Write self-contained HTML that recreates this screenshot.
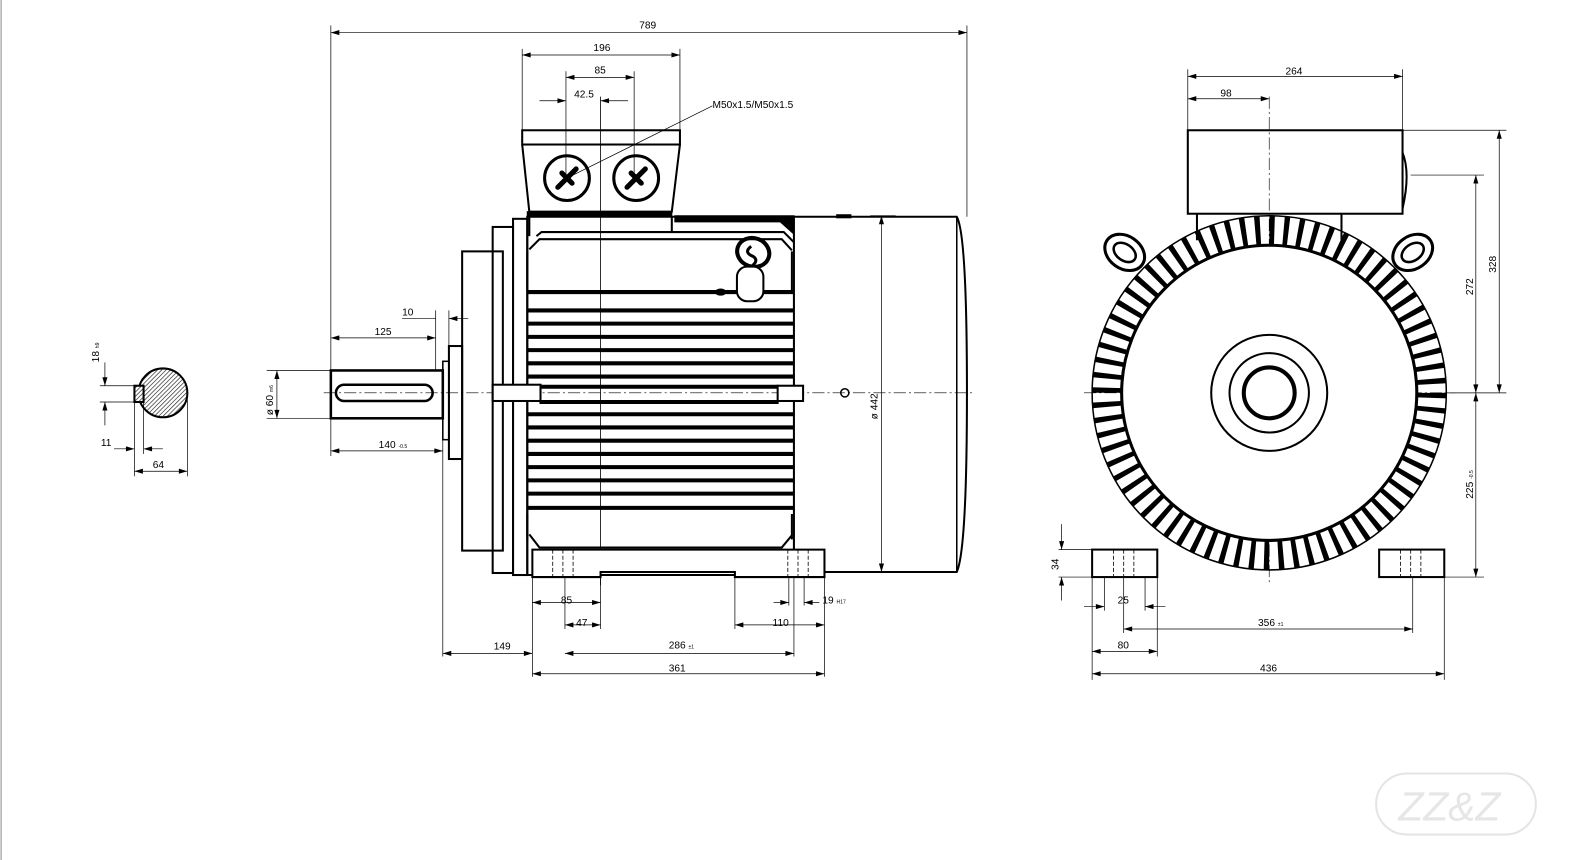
<!DOCTYPE html>
<html><head><meta charset="utf-8"><style>
html,body{margin:0;padding:0;background:#fff;}
svg{display:block;}
text{font-family:"Liberation Sans",sans-serif;font-size:10px;fill:#000;}
</style></head><body>
<svg width="1596" height="860" viewBox="0 0 1568 845" xmlns="http://www.w3.org/2000/svg">
<defs>
<marker id="a" viewBox="0 0 10 6" refX="10" refY="3" markerWidth="10" markerHeight="5" orient="auto-start-reverse" markerUnits="userSpaceOnUse"><path d="M0,0L10,3L0,6z"/></marker>
<pattern id="h" width="3" height="3" patternUnits="userSpaceOnUse" patternTransform="rotate(45)"><rect width="3" height="3" fill="#fff"/><line x1="0" y1="0" x2="0" y2="3" stroke="#333" stroke-width="1.4"/></pattern>
</defs>
<rect width="1568" height="845" fill="#fff"/>
<line x1="1" y1="0" x2="1" y2="845" stroke="#888" stroke-width="1"/>

<g stroke="#000" fill="none">
<circle cx="160" cy="386" r="24" fill="url(#h)" stroke-width="2"/>
<rect x="132" y="379" width="9" height="16" fill="url(#h)" stroke-width="2"/>
<line x1="98" y1="379" x2="132" y2="379" stroke-width="0.7"/>
<line x1="98" y1="395" x2="132" y2="395" stroke-width="0.7"/>
<line x1="103" y1="356" x2="103" y2="379" stroke-width="0.7" marker-end="url(#a)"/>
<line x1="103" y1="418" x2="103" y2="395" stroke-width="0.7" marker-end="url(#a)"/>
<line x1="132" y1="395" x2="132" y2="468" stroke-width="0.7"/>
<line x1="141" y1="395" x2="141" y2="446" stroke-width="0.7"/>
<line x1="184" y1="386" x2="184" y2="468" stroke-width="0.7"/>
<line x1="112" y1="441" x2="132" y2="441" stroke-width="0.7" marker-end="url(#a)"/>
<line x1="160" y1="441" x2="141" y2="441" stroke-width="0.7" marker-end="url(#a)"/>
<line x1="132" y1="463" x2="184" y2="463" stroke-width="0.7" marker-start="url(#a)" marker-end="url(#a)"/>
</g>
<text x="97" y="356" transform="rotate(-90 97 356)">18 <tspan font-size="5">h9</tspan></text>
<text x="99" y="438">11</text>
<text x="150" y="460">64</text>

<g stroke="#000" fill="none">
<line x1="318" y1="386" x2="955" y2="386" stroke-width="0.6" stroke-dasharray="12 3 2 3"/>
<line x1="590" y1="95" x2="590" y2="575" stroke-width="0.8"/>
<rect x="325" y="364" width="110" height="47" stroke-width="2.5"/>
<rect x="330" y="378" width="95" height="16" rx="8" stroke-width="2.5"/>
<rect x="435" y="355" width="6" height="77" stroke-width="1.5"/>
<rect x="441" y="340" width="13" height="111" stroke-width="2"/>
<rect x="454" y="247" width="40" height="294" stroke-width="2"/>
<rect x="484" y="223" width="20" height="340" stroke-width="2"/>
<rect x="504" y="215" width="14" height="350" stroke-width="2"/>
<path d="M518,213 H780 V565 H518 Z" stroke-width="2"/>
<path d="M527,232 L532,228 H770 L780,238 M520,245 L530,235 H768 L778,246" stroke-width="2"/>
<path d="M520,525 L530,538 H768 L778,526" stroke-width="2"/>
<rect x="663" y="212" width="117" height="6" fill="#000"/>
<path d="M762,214 L780,230 V214Z" fill="#000"/>
<path d="M518,247 V285 M778,247 V285 M518,505 V530 M778,505 V530" stroke-width="2"/>
<g stroke-width="4">
<line x1="518" y1="287" x2="780" y2="287"/>
<line x1="518" y1="305" x2="780" y2="305"/>
<line x1="518" y1="318" x2="780" y2="318"/>
<line x1="518" y1="331" x2="780" y2="331"/>
<line x1="518" y1="344" x2="780" y2="344"/>
<line x1="518" y1="357" x2="780" y2="357"/>
<line x1="518" y1="370" x2="780" y2="370"/>
<line x1="530" y1="380" x2="765" y2="380"/>
<line x1="530" y1="395" x2="765" y2="395"/>
<line x1="518" y1="407" x2="780" y2="407"/>
<line x1="518" y1="420" x2="780" y2="420"/>
<line x1="518" y1="433" x2="780" y2="433"/>
<line x1="518" y1="446" x2="780" y2="446"/>
<line x1="518" y1="459" x2="780" y2="459"/>
<line x1="518" y1="472" x2="780" y2="472"/>
<line x1="518" y1="485" x2="780" y2="485"/>
<line x1="518" y1="499" x2="780" y2="499"/>
</g>
<rect x="484" y="378" width="47" height="16" stroke-width="2" fill="#fff"/>
<rect x="764" y="379" width="25" height="15" stroke-width="2" fill="#fff"/>
<ellipse cx="740" cy="248" rx="16" ry="14" stroke-width="4" transform="rotate(20 740 248)"/>
<path d="M738,242 q-8,6 2,10 q6,4 -2,10" stroke-width="3"/>
<rect x="724" y="262" width="26" height="34" rx="10" stroke-width="2" fill="#fff"/>
<ellipse cx="708" cy="287" rx="5" ry="3" fill="#000"/>
<path d="M780,213 H940 Q950,230 950,386 Q950,540 940,562 H780" stroke-width="2"/>
<line x1="940" y1="213" x2="940" y2="562" stroke-width="1.5"/>
<circle cx="830" cy="386" r="4" stroke-width="1.5"/>
<rect x="822" y="211" width="14" height="3" fill="#000"/>
<path d="M523,540 H810 V567 H722 V562 H590 V567 H523 Z" stroke-width="2" fill="#fff"/>
<path d="M543,540 V567 M553,540 V567 M563,540 V567 M774,540 V567 M784,540 V567 M794,540 V567" stroke-width="0.8" stroke-dasharray="4 2"/>
<rect x="513" y="128" width="155" height="14" stroke-width="2"/>
<path d="M513,142 L520,208 H660 L668,142" stroke-width="2"/>
<rect x="518" y="208" width="142" height="5" fill="#000"/>
<path d="M520,213 V232 M660,213 V228" stroke-width="2"/>
<circle cx="557" cy="175" r="22" stroke-width="3"/>
<circle cx="625" cy="175" r="22" stroke-width="3"/>
<path d="M548,184 L566,166 M552,170 L562,180" stroke-width="5" stroke-linecap="round"/>
<path d="M616,184 L634,166 M620,170 L630,180" stroke-width="5" stroke-linecap="round"/>
<g stroke-width="0.7">
<path d="M325,25 V364 M950,25 V213 M513,48 V128 M668,48 V128 M556,70 V175 M623,70 V175 M428,305 V364 M441,305 V340 M435,411 V645 M325,411 V448 M262,364 H325 M262,411 H325 M855,212 H880 M855,562 H860"/>
<path d="M523,567 V665 M555,567 V618 M590,567 V618 M722,567 V618 M780,567 V645 M810,567 V665 M775,567 V595 M790,567 V595"/>
<line x1="325" y1="32" x2="950" y2="32" marker-start="url(#a)" marker-end="url(#a)"/>
<line x1="513" y1="54" x2="668" y2="54" marker-start="url(#a)" marker-end="url(#a)"/>
<line x1="556" y1="76" x2="623" y2="76" marker-start="url(#a)" marker-end="url(#a)"/>
<line x1="530" y1="99" x2="556" y2="99" marker-end="url(#a)"/>
<line x1="617" y1="99" x2="590" y2="99" marker-end="url(#a)"/>
<line x1="557" y1="175" x2="700" y2="104"/>
<line x1="325" y1="332" x2="428" y2="332" marker-start="url(#a)" marker-end="url(#a)"/>
<line x1="395" y1="313" x2="428" y2="313"/>
<line x1="460" y1="313" x2="441" y2="313" marker-end="url(#a)"/>
<line x1="325" y1="443" x2="435" y2="443" marker-start="url(#a)" marker-end="url(#a)"/>
<line x1="272" y1="364" x2="272" y2="411" marker-start="url(#a)" marker-end="url(#a)"/>
<line x1="866" y1="212" x2="866" y2="562" marker-start="url(#a)" marker-end="url(#a)"/>
<line x1="523" y1="592" x2="590" y2="592" marker-start="url(#a)" marker-end="url(#a)"/>
<line x1="555" y1="614" x2="590" y2="614" marker-start="url(#a)" marker-end="url(#a)"/>
<line x1="722" y1="614" x2="810" y2="614" marker-start="url(#a)" marker-end="url(#a)"/>
<line x1="760" y1="592" x2="775" y2="592" marker-end="url(#a)"/>
<line x1="805" y1="592" x2="790" y2="592" marker-end="url(#a)"/>
<line x1="435" y1="642" x2="523" y2="642" marker-start="url(#a)" marker-end="url(#a)"/>
<line x1="555" y1="642" x2="780" y2="642" marker-start="url(#a)" marker-end="url(#a)"/>
<line x1="523" y1="662" x2="810" y2="662" marker-start="url(#a)" marker-end="url(#a)"/>
</g>
</g>
<text x="628" y="28">789</text>
<text x="583" y="50">196</text>
<text x="584" y="72">85</text>
<text x="564" y="96">42.5</text>
<text x="700" y="106">M50x1.5/M50x1.5</text>
<text x="368" y="329">125</text>
<text x="395" y="310">10</text>
<text x="372" y="440">140 <tspan font-size="5">-0.5</tspan></text>
<text x="268" y="408" transform="rotate(-90 268 408)">ø 60 <tspan font-size="5">m6</tspan></text>
<text x="862" y="412" transform="rotate(-90 862 412)">ø 442</text>
<text x="551" y="593">85</text>
<text x="566" y="615">47</text>
<text x="759" y="615">110</text>
<text x="808" y="593">19 <tspan font-size="5">H17</tspan></text>
<text x="485" y="638">149</text>
<text x="657" y="637">286 <tspan font-size="5">±1</tspan></text>
<text x="657" y="660">361</text>

<g stroke="#000" fill="none">
<line x1="1065" y1="386" x2="1430" y2="386" stroke-width="0.6" stroke-dasharray="12 3 2 3"/>
<line x1="1247" y1="95" x2="1247" y2="572" stroke-width="0.6" stroke-dasharray="12 3 2 3"/>
<rect x="1167" y="128" width="211" height="82" stroke-width="2"/>
<path d="M1378,150 Q1386,170 1378,205" stroke-width="2"/>
<path d="M1176,210 V236 M1318,210 V236" stroke-width="2"/>
<circle cx="1247" cy="386" r="160" stroke-width="29" stroke-dasharray="5 8.96"/>
<circle cx="1247" cy="386" r="174" stroke-width="1.5"/>
<circle cx="1247" cy="386" r="145" stroke-width="3" fill="#fff"/>
<ellipse cx="1105" cy="248" rx="21" ry="16" stroke-width="3" fill="#fff" transform="rotate(35 1105 248)"/>
<ellipse cx="1105" cy="248" rx="12" ry="8" stroke-width="2.5" transform="rotate(35 1105 248)"/>
<ellipse cx="1388" cy="248" rx="21" ry="16" stroke-width="3" fill="#fff" transform="rotate(-35 1388 248)"/>
<ellipse cx="1388" cy="248" rx="12" ry="8" stroke-width="2.5" transform="rotate(-35 1388 248)"/>
<circle cx="1247" cy="386" r="57" stroke-width="2"/>
<circle cx="1247" cy="386" r="39" stroke-width="2"/>
<circle cx="1247" cy="386" r="25" stroke-width="4"/>
<path d="M1272,380 V392" stroke-width="2"/>
<rect x="1073" y="540" width="64" height="27" stroke-width="2" fill="#fff"/>
<rect x="1355" y="540" width="64" height="27" stroke-width="2" fill="#fff"/>
<path d="M1094,540 V567 M1104,540 V567 M1114,540 V567 M1376,540 V567 M1386,540 V567 M1396,540 V567" stroke-width="0.8" stroke-dasharray="4 2"/>
<g stroke-width="0.7">
<path d="M1167,68 V128 M1378,68 V128 M1378,128 H1480 M1386,172 H1458 M1419,386 H1480 M1419,567 H1458 M1040,540 H1073 M1040,567 H1073 M1073,567 V668 M1419,567 V668 M1137,567 V645 M1085,567 V600 M1125,567 V600 M1104,567 V622 M1388,567 V622"/>
<line x1="1167" y1="75" x2="1378" y2="75" marker-start="url(#a)" marker-end="url(#a)"/>
<line x1="1167" y1="97" x2="1247" y2="97" marker-start="url(#a)" marker-end="url(#a)"/>
<line x1="1473" y1="128" x2="1473" y2="386" marker-start="url(#a)" marker-end="url(#a)"/>
<line x1="1450" y1="172" x2="1450" y2="386" marker-start="url(#a)" marker-end="url(#a)"/>
<line x1="1450" y1="386" x2="1450" y2="567" marker-start="url(#a)" marker-end="url(#a)"/>
<line x1="1043" y1="515" x2="1043" y2="540" marker-end="url(#a)"/>
<line x1="1043" y1="590" x2="1043" y2="567" marker-end="url(#a)"/>
<line x1="1065" y1="596" x2="1085" y2="596" marker-end="url(#a)"/>
<line x1="1145" y1="596" x2="1125" y2="596" marker-end="url(#a)"/>
<line x1="1104" y1="618" x2="1388" y2="618" marker-start="url(#a)" marker-end="url(#a)"/>
<line x1="1073" y1="640" x2="1137" y2="640" marker-start="url(#a)" marker-end="url(#a)"/>
<line x1="1073" y1="662" x2="1419" y2="662" marker-start="url(#a)" marker-end="url(#a)"/>
</g>
</g>
<text x="1263" y="73">264</text>
<text x="1199" y="95">98</text>
<text x="1470" y="268" transform="rotate(-90 1470 268)">328</text>
<text x="1447" y="290" transform="rotate(-90 1447 290)">272</text>
<text x="1447" y="490" transform="rotate(-90 1447 490)">225 <tspan font-size="5">-0.5</tspan></text>
<text x="1040" y="560" transform="rotate(-90 1040 560)">34</text>
<text x="1098" y="593">25</text>
<text x="1236" y="615">356 <tspan font-size="5">±1</tspan></text>
<text x="1098" y="637">80</text>
<text x="1238" y="660">436</text>

<rect x="1352" y="760" width="157" height="60" rx="30" fill="none" stroke="#e4e4e4" stroke-width="2"/>
<text x="1374" y="806" style="font-size:40px;fill:#e6e6e6;font-style:italic">ZZ&amp;Z</text>
</svg>
</body></html>
